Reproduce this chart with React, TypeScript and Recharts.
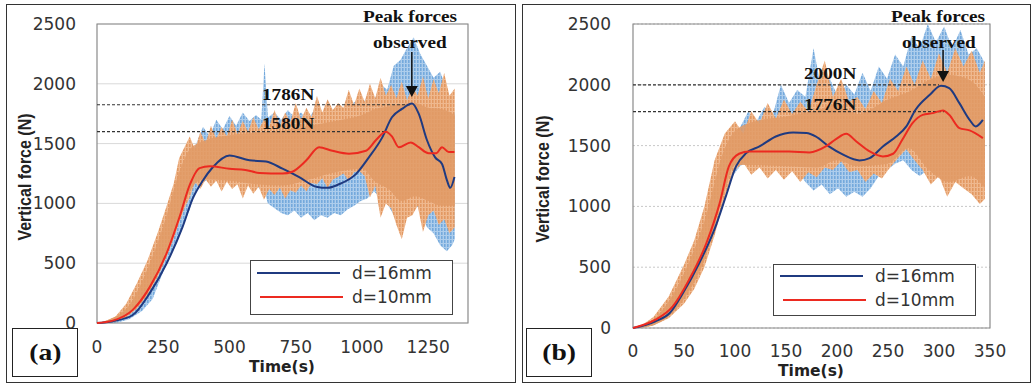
import React from 'react';
import {
  ComposedChart,
  Area,
  Line,
  XAxis,
  YAxis,
  CartesianGrid,
  ReferenceLine,
  ReferenceArea,
  ReferenceDot,
} from 'recharts';

// shared force axis (N)
const forceTicks = [0, 500, 1000, 1500, 2000, 2500];

// ---------- panel (a): time 0..1400 s ----------
const timeTicksA = [0, 250, 500, 750, 1000, 1250];

// raw signal envelopes (spiky edges kept)
const tOrangeA = [0, 30, 70, 110, 150, 190, 230, 260, 290, 310, 330, 350, 370, 390, 410, 430, 450, 470, 490, 510, 530, 550, 570, 590, 610, 630, 650, 670, 690, 710, 730, 750, 770, 790, 810, 830, 850, 870, 890, 910, 930, 950, 970, 990, 1010, 1030, 1050, 1070, 1090, 1110, 1130, 1150, 1170, 1190, 1210, 1230, 1250, 1270, 1290, 1310, 1330, 1350];
const orangeHiA = [0, 15, 55, 160, 330, 520, 760, 960, 1170, 1380, 1470, 1560, 1450, 1600, 1500, 1650, 1540, 1640, 1560, 1700, 1580, 1690, 1600, 1720, 1620, 1700, 1640, 1780, 1650, 1760, 1680, 1840, 1700, 1800, 1720, 1900, 1760, 1870, 1780, 1840, 1800, 1950, 1820, 1960, 1850, 2000, 1880, 2050, 1900, 1990, 1880, 2020, 1860, 1980, 1900, 2060, 1880, 2040, 1920, 2090, 1900, 1960];
const orangeLoA = [0, 0, 10, 45, 120, 230, 390, 540, 710, 840, 960, 1050, 1180, 1120, 1200, 1140, 1190, 1100, 1180, 1120, 1160, 1040, 1150, 1080, 1140, 1030, 1120, 1070, 1130, 1040, 1110, 1090, 1150, 1100, 1170, 1160, 1210, 1130, 1200, 1220, 1250, 1190, 1260, 1270, 1230, 1050, 1150, 880, 1000, 960, 820, 700, 880, 900, 980, 760, 900, 940, 820, 870, 750, 800];
// denser core of the orange trace
const tCoreA = [0, 110, 190, 260, 310, 350, 400, 500, 600, 700, 800, 900, 1000, 1050, 1100, 1150, 1200, 1250, 1300, 1350];
const coreLoA = [0, 60, 250, 560, 850, 1100, 1200, 1190, 1160, 1150, 1200, 1260, 1290, 1180, 1120, 1020, 1060, 1020, 980, 980];
const coreHiA = [0, 120, 450, 880, 1260, 1450, 1520, 1570, 1590, 1610, 1650, 1690, 1740, 1790, 1810, 1830, 1840, 1800, 1790, 1740];

const tBlueA = [0, 70, 120, 170, 210, 250, 290, 320, 350, 375, 400, 425, 450, 475, 500, 525, 550, 575, 600, 620, 632, 645, 670, 695, 720, 745, 770, 795, 820, 845, 870, 895, 920, 945, 970, 995, 1020, 1045, 1070, 1095, 1120, 1145, 1170, 1195, 1220, 1245, 1270, 1295, 1320, 1340, 1350];
const blueHiA = [0, 30, 110, 260, 440, 690, 980, 1200, 1380, 1500, 1640, 1560, 1700, 1620, 1730, 1650, 1760, 1690, 1740, 1700, 2170, 1720, 1760, 1700, 1780, 1720, 1760, 1700, 1780, 1740, 1760, 1720, 1800, 1760, 1850, 1800, 1900, 1850, 2000, 1950, 2150, 2200, 2300, 2390, 2250, 2150, 2050, 2100, 1950, 1850, 1750];
const blueLoA = [0, 0, 30, 100, 200, 430, 630, 790, 950, 1120, 1180, 1200, 1230, 1220, 1250, 1200, 1180, 1150, 1140, 1120, 1100, 1000, 960, 920, 900, 940, 880, 920, 860, 900, 880, 920, 900, 950, 980, 1020, 1040, 1100, 1050, 1000, 900, 1050, 1100, 1000, 950, 800, 750, 650, 600, 650, 700];

// smoothed curves
const tNavyA = [0, 60, 135, 199, 263, 323, 361, 399, 436, 500, 575, 638, 700, 763, 827, 870, 913, 977, 1026, 1076, 1113, 1151, 1189, 1214, 1245, 1276, 1302, 1321, 1333, 1349];
const navyA = [0, 15, 67, 250, 500, 803, 1040, 1190, 1300, 1400, 1360, 1350, 1290, 1220, 1140, 1130, 1160, 1245, 1385, 1550, 1720, 1790, 1835, 1750, 1530, 1385, 1330, 1190, 1130, 1220];
const tRedA = [0, 60, 135, 199, 263, 312, 350, 387, 425, 500, 560, 613, 700, 737, 790, 838, 888, 951, 1015, 1053, 1090, 1113, 1139, 1184, 1214, 1251, 1280, 1302, 1327, 1349];
const redA = [0, 20, 110, 300, 585, 890, 1155, 1295, 1310, 1290, 1280, 1255, 1250, 1265, 1360, 1470, 1440, 1415, 1440, 1530, 1600, 1560, 1470, 1510, 1470, 1420, 1420, 1470, 1430, 1430];

// ---------- panel (b): time 0..350 s ----------
const timeTicksB = [0, 50, 100, 150, 200, 250, 300, 350];

const tOrangeB = [0, 10, 20, 35, 50, 60, 70, 80, 90, 100, 108, 116, 124, 132, 140, 148, 156, 164, 172, 180, 188, 196, 204, 212, 220, 228, 236, 244, 252, 260, 268, 276, 284, 292, 300, 308, 316, 324, 332, 340, 345];
const orangeHiB = [0, 30, 90, 260, 520, 720, 1000, 1380, 1600, 1700, 1600, 1780, 1680, 1850, 1720, 1880, 1760, 1860, 1780, 2000, 2200, 1900, 2050, 1860, 1900, 1800, 1950, 1850, 2050, 1950, 2150, 2000, 2200, 2050, 2260, 2100, 2300, 2150, 2280, 2100, 2200];
const orangeLoB = [0, 0, 20, 80, 200, 320, 500, 760, 1080, 1300, 1360, 1260, 1320, 1230, 1300, 1220, 1290, 1200, 1280, 1240, 1320, 1300, 1370, 1280, 1300, 1200, 1270, 1230, 1320, 1400, 1470, 1380, 1300, 1180, 1250, 1080, 1200, 1150, 1100, 1020, 1060];
const tCoreB = [0, 20, 50, 70, 90, 100, 120, 150, 180, 200, 220, 250, 270, 290, 310, 330, 345];
const coreLoB = [0, 25, 240, 560, 1130, 1340, 1340, 1330, 1320, 1380, 1330, 1350, 1480, 1300, 1200, 1250, 1150];
const coreHiB = [0, 70, 450, 880, 1480, 1620, 1700, 1740, 1790, 1840, 1760, 1880, 1940, 2040, 2080, 2040, 1900];

const tBlueB = [0, 20, 40, 55, 65, 75, 85, 95, 105, 113, 121, 129, 137, 145, 153, 161, 169, 177, 185, 193, 201, 209, 217, 225, 233, 241, 249, 257, 265, 273, 281, 289, 297, 305, 313, 321, 329, 337, 345];
const blueHiB = [0, 60, 240, 480, 700, 950, 1250, 1500, 1650, 1780, 1700, 1820, 1750, 2000, 1850, 1960, 1900, 2300, 1950, 2050, 1900, 2000, 1920, 2100, 1950, 2150, 2050, 2250, 2150, 2400, 2300, 2500, 2350, 2480, 2300, 2450, 2250, 2300, 2180];
const blueLoB = [0, 20, 140, 360, 530, 690, 930, 1220, 1330, 1380, 1400, 1370, 1380, 1350, 1360, 1300, 1200, 1130, 1180, 1100, 1150, 1080, 1120, 1080, 1150, 1250, 1300, 1350, 1380, 1300, 1250, 1300, 1350, 1300, 1250, 1300, 1350, 1400, 1400];

const tNavyB = [0, 22, 36, 49, 65, 81, 91, 101, 111, 124, 140, 157, 170, 179, 192, 206, 222, 232, 245, 258, 268, 277, 291, 302, 310, 320, 330, 336, 343];
const navyB = [0, 55, 123, 288, 534, 836, 1082, 1329, 1438, 1493, 1575, 1608, 1603, 1575, 1493, 1425, 1378, 1397, 1493, 1575, 1658, 1795, 1918, 1992, 1973, 1849, 1712, 1658, 1712];
const tRedB = [0, 22, 39, 55, 72, 85, 94, 104, 114, 134, 153, 173, 189, 199, 209, 219, 232, 245, 255, 264, 274, 284, 294, 304, 310, 320, 330, 343];
const redB = [0, 68, 178, 397, 699, 1027, 1329, 1433, 1452, 1452, 1452, 1444, 1493, 1553, 1597, 1534, 1452, 1411, 1433, 1548, 1685, 1753, 1767, 1789, 1753, 1644, 1625, 1562];

const ORANGE_CORE = '#E09A66';
const NAVY = '#1F3A80';
const RED = '#EC2A20';

const band = (t: number[], lo: number[], hi: number[]) =>
  t.map((v, i) => ({ t: v, range: [lo[i], hi[i]] }));
const curve = (t: number[], f: number[]) => t.map((v, i) => ({ t: v, f: f[i] }));

const ArrowHead = (props: any) => {
  const { cx, cy } = props;
  return <path d={`M${cx - 6},${cy - 11} L${cx + 6},${cy - 11} L${cx},${cy} Z`} fill="#111" />;
};

const Note = ({ x, base, children, size = 16 }: any) => (
  <div
    style={{
      position: 'absolute',
      left: x,
      top: base - size * 0.8375,
      fontFamily: '"Liberation Serif", serif',
      fontWeight: 700,
      fontSize: size,
      lineHeight: `${size}px`,
      whiteSpace: 'nowrap',
      transform: 'scaleX(1.2)',
      transformOrigin: '0 0',
      color: '#111',
    }}
  >
    {children}
  </div>
);

const Panel = (p: any) => {
  const tickFont = { fontSize: 17, fill: '#333', fontFamily: '"DejaVu Sans", sans-serif' };
  const oid = `hatchO${p.id}`;
  const bid = `hatchB${p.id}`;
  return (
    <div style={{ position: 'absolute', left: p.left, top: 0, width: 516, height: 385 }}>
      <ComposedChart width={516} height={385} margin={p.margin}>
        <defs>
          <pattern id={oid} width="3" height="4" patternUnits="userSpaceOnUse">
            <rect width="3" height="4" fill="#EFB88E" />
            <rect width="1.6" height="3" fill="#E29862" />
          </pattern>
          <pattern id={bid} width="3" height="4" patternUnits="userSpaceOnUse">
            <rect width="3" height="4" fill="#ADCDEC" />
            <rect width="1.6" height="3" fill="#74A9DC" />
          </pattern>
        </defs>
        <CartesianGrid
          vertical={false}
          stroke={p.gridColor}
          strokeDasharray={p.gridDash}
        />
        <XAxis
          type="number"
          dataKey="t"
          domain={[0, p.xMax]}
          ticks={p.xTicks}
          height={30}
          axisLine={false}
          tickLine={false}
          tickMargin={p.xTickMargin}
          tick={tickFont}
          interval={0}
        />
        <YAxis
          domain={[0, 2500]}
          ticks={forceTicks}
          width={60}
          axisLine={false}
          tickLine={false}
          tickMargin={p.yTickMargin}
          tick={tickFont}
          interval={0}
        />
        <Area
          data={p.blue}
          dataKey="range"
          type="linear"
          stroke="none"
          fill={`url(#${bid})`}
          fillOpacity={1}
          isAnimationActive={false}
          dot={false}
          activeDot={false}
        />
        <Area
          data={p.orange}
          dataKey="range"
          type="linear"
          stroke="none"
          fill={`url(#${oid})`}
          fillOpacity={1}
          isAnimationActive={false}
          dot={false}
          activeDot={false}
        />
        <Area
          data={p.core}
          dataKey="range"
          type="monotone"
          stroke="none"
          fill={ORANGE_CORE}
          fillOpacity={0.85}
          isAnimationActive={false}
          dot={false}
          activeDot={false}
        />
        <ReferenceLine
          segment={[{ x: 0, y: p.peakHi[0] }, { x: p.peakHi[1], y: p.peakHi[0] }]}
          stroke="#333"
          strokeWidth={1.2}
          strokeDasharray="3 2"
        />
        <ReferenceLine
          segment={[{ x: 0, y: p.peakLo[0] }, { x: p.peakLo[1], y: p.peakLo[0] }]}
          stroke="#333"
          strokeWidth={1.2}
          strokeDasharray="3 2"
        />
        <Line
          data={p.navy}
          dataKey="f"
          type="monotone"
          stroke={NAVY}
          strokeWidth={2}
          dot={false}
          activeDot={false}
          isAnimationActive={false}
        />
        <Line
          data={p.red}
          dataKey="f"
          type="monotone"
          stroke={RED}
          strokeWidth={2}
          dot={false}
          activeDot={false}
          isAnimationActive={false}
        />
        <ReferenceLine
          segment={[{ x: p.arrow[0], y: p.arrow[1] }, { x: p.arrow[0], y: p.arrow[2] + 60 }]}
          stroke="#111"
          strokeWidth={1.5}
        />
        <ReferenceDot x={p.arrow[0]} y={p.arrow[2]} r={0} shape={ArrowHead} />
        <ReferenceArea x1={0} x2={p.xMax} y1={0} y2={2500} fill="none" stroke="#8a8a8a" strokeWidth={1.2} />
      </ComposedChart>

      {/* outer frame */}
      <div
        style={{
          position: 'absolute',
          left: 6,
          top: 4,
          width: p.frameW,
          height: 379,
          border: '1.5px solid #333',
          boxSizing: 'border-box',
        }}
      />

      {/* axis titles */}
      <div
        style={{
          position: 'absolute',
          left: p.yTitle[0] - 110,
          top: p.yTitle[1] - 10,
          width: 220,
          height: 20,
          lineHeight: '20px',
          textAlign: 'center',
          fontFamily: '"Liberation Sans", Arial, sans-serif',
          fontWeight: 700,
          fontSize: 16,
          color: '#222',
          transform: 'rotate(-90deg) scaleY(1.2)',
          whiteSpace: 'nowrap',
        }}
      >
        Vertical force (N)
      </div>
      <div
        style={{
          position: 'absolute',
          left: p.xTitle[0] - 100,
          top: p.xTitle[1] - 10,
          width: 200,
          height: 20,
          lineHeight: '20px',
          textAlign: 'center',
          fontFamily: '"DejaVu Sans", sans-serif',
          fontWeight: 700,
          fontSize: 15.5,
          color: '#222',
        }}
      >
        Time(s)
      </div>

      {/* legend */}
      <div
        style={{
          position: 'absolute',
          left: p.legend[0],
          top: p.legend[1],
          width: 203,
          height: p.legend[2],
          border: '1.5px solid #444',
          boxSizing: 'border-box',
          background: '#fff',
        }}
      >
        {[
          { c: NAVY, name: 'd=16mm', y: p.legendRows[0], x: 6 },
          { c: RED, name: 'd=10mm', y: p.legendRows[1], x: 9 },
        ].map((r) => (
          <React.Fragment key={r.name}>
            <div
              style={{
                position: 'absolute',
                left: r.x,
                top: r.y - 1,
                width: 83,
                height: 2,
                background: r.c,
              }}
            />
            <div
              style={{
                position: 'absolute',
                left: 101,
                top: r.y - 9.7,
                height: 20,
                lineHeight: '20px',
                fontFamily: '"DejaVu Sans", sans-serif',
                fontSize: 17,
                color: '#333',
                whiteSpace: 'nowrap',
              }}
            >
              {r.name}
            </div>
          </React.Fragment>
        ))}
      </div>

      {/* annotations */}
      <Note x={p.peakText[0]} base={22}>Peak forces</Note>
      <Note x={p.peakText[1]} base={48.5}>observed</Note>
      <Note x={p.valText[0]} base={p.valText[1]}>{p.valLabels[0]}</Note>
      <Note x={p.valText[0]} base={p.valText[2]}>{p.valLabels[1]}</Note>

      {/* panel tag */}
      <div
        style={{
          position: 'absolute',
          left: p.tag[0],
          top: 328,
          width: 66,
          height: 49,
          border: '1.5px solid #222',
          boxSizing: 'border-box',
          display: 'flex',
          alignItems: 'center',
          justifyContent: 'center',
          background: '#fff',
        }}
      >
        <span
          style={{
            fontFamily: '"Liberation Serif", serif',
            fontWeight: 700,
            fontSize: 23,
            transform: 'scaleX(1.2)',
            color: '#111',
          }}
        >
          {p.tag[1]}
        </span>
      </div>
    </div>
  );
};

export default function App() {
  return (
    <div
      style={{
        position: 'absolute',
        left: 0,
        top: 0,
        width: 1032,
        height: 385,
        background: '#fff',
        overflow: 'hidden',
      }}
    >
      <Panel
        id="a"
        left={0}
        margin={{ top: 24, right: 48, bottom: 32, left: 37 }}
        xMax={1400}
        xTicks={timeTicksA}
        xTickMargin={12}
        yTickMargin={15}
        gridColor="#d9d9d9"
        gridDash={undefined}
        blue={band(tBlueA, blueLoA, blueHiA)}
        orange={band(tOrangeA, orangeLoA, orangeHiA)}
        core={band(tCoreA, coreLoA, coreHiA)}
        navy={curve(tNavyA, navyA)}
        red={curve(tRedA, redA)}
        peakHi={[1825, 1184]}
        peakLo={[1600, 1090]}
        arrow={[1188, 2266, 1890]}
        frameW={510}
        yTitle={[25, 177]}
        xTitle={[282, 367]}
        legend={[250, 259.5, 55]}
        legendRows={[12.5, 36.5]}
        peakText={[363, 373]}
        valText={[262, 100.7, 129.3]}
        valLabels={['1786N', '1580N']}
        tag={[12, '(a)']}
      />
      <Panel
        id="b"
        left={516}
        margin={{ top: 24, right: 42, bottom: 27, left: 57 }}
        xMax={350}
        xTicks={timeTicksB}
        xTickMargin={11}
        yTickMargin={16}
        gridColor="#c8c8c8"
        gridDash="2 2"
        blue={band(tBlueB, blueLoB, blueHiB)}
        orange={band(tOrangeB, orangeLoB, orangeHiB)}
        core={band(tCoreB, coreLoB, coreHiB)}
        navy={curve(tNavyB, navyB)}
        red={curve(tRedB, redB)}
        peakHi={[2000, 300]}
        peakLo={[1779, 305]}
        arrow={[304, 2286, 2023]}
        frameW={509}
        yTitle={[26.5, 178.5]}
        xTitle={[295, 371]}
        legend={[257, 264, 52]}
        legendRows={[11, 35]}
        peakText={[375, 386]}
        valText={[288, 79.3, 110]}
        valLabels={['2000N', '1776N']}
        tag={[10, '(b)']}
      />
    </div>
  );
}
